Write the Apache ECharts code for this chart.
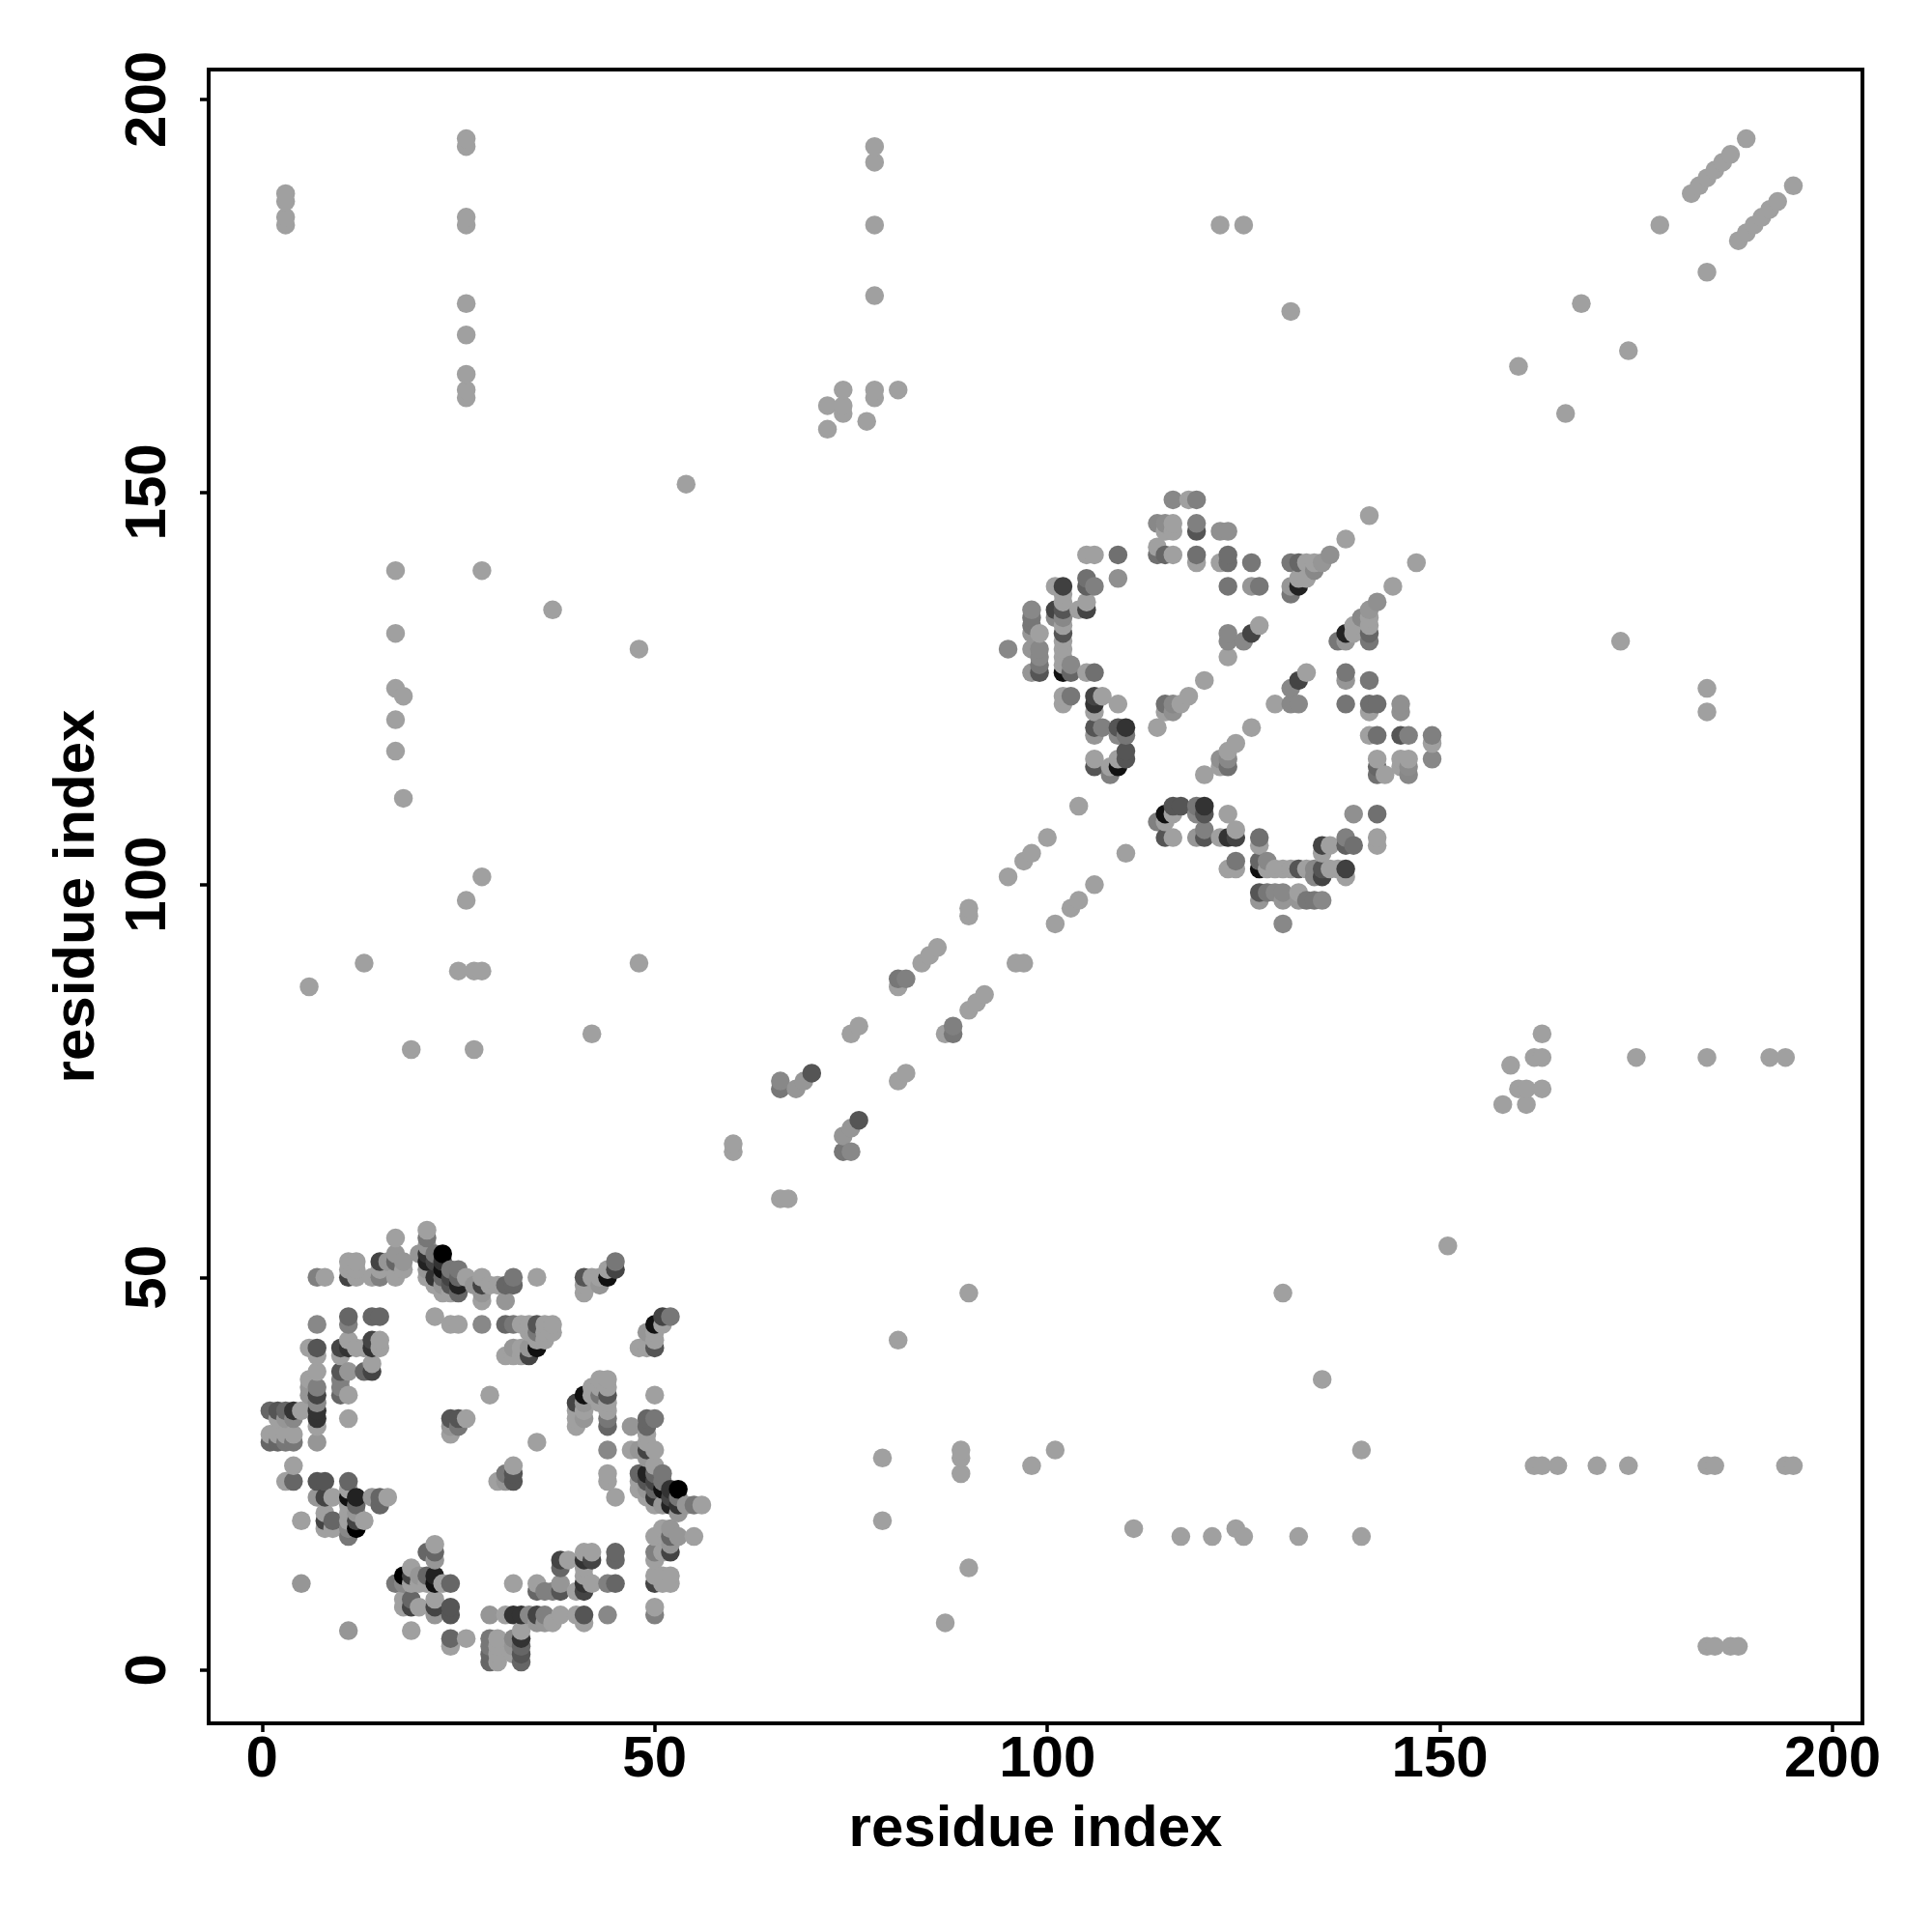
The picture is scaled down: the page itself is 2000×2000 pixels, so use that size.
<!DOCTYPE html>
<html><head><meta charset="utf-8">
<style>html,body{margin:0;padding:0;background:#fff}#c{width:2000px;height:2000px}</style>
<script src="https://cdn.jsdelivr.net/npm/echarts@6/dist/echarts.min.js"></script>
</head><body><div id="c"></div>
<script>
const axisTitle = 'residue index';
const tickValues = [0, 50, 100, 150, 200];
const axisMin = -6.8, axisMax = 203.8;
const lightGray = 160;

// contacts are stored once as [i, j] or [i, j, gray] with i < j; the map is symmetric
const farContacts = [
 [3,188],[3,187],[3,185],[3,184],[26,195],[26,194],[26,185],[26,184],[26,174],[26,170],[26,165],[26,163],[26,162],
 [78,194],[78,192],[78,184],[78,175],[78,163],[78,162],[81,163],[74,163],[74,160],[74,161],[72,161],[72,158],[77,159],
 [122,184],[125,184],[131,173],[160,166],[168,174],[178,184],
 [182,188],[183,189],[184,190],[185,191],[186,192],[187,193],[189,195],
 [54,151],[17,140],[28,140],[37,135],[17,132],[48,130],[17,125],[18,124],[17,121],[17,117],[18,111],
 [28,101],[26,98],[13,90],[6,87],[25,89],[27,89],[28,89],[48,90],[42,81],[19,79],[27,79]
];
const bandContacts = [
 [60,67],[60,66],[66,75,136],[66,74,119],[68,74,150],[69,75,150],[70,76,85],[75,81],[76,82],
 [81,87],[81,88,119],[82,88,128],[84,90],[85,91],[86,92],[90,97],[90,96],[95,101],[97,103],[98,104],[100,106],[104,110]
];
const barrelA = [
 [1,33,102],[1,30,160],[1,29,102],[2,33,85],[2,32,160],[2,30,160],[2,29,102],
 [3,33,102],[3,32,150],[3,30,160],[3,29,119],[3,24,160],
 [4,33,51],[4,32,136],[4,30,160],[4,29,119],[4,26,160],[4,24,102],[5,33,160],[5,19,160],[5,11,150],
 [6,41,160],[6,37,160],[6,36,150],[6,35,150],
 [7,50,128],[7,44,136],[7,41,85],[7,40,160],[7,38,160],[7,36,128],[7,35,68],[7,34,136],[7,33,51],[7,32,51],[7,31,160],[7,29,150],[7,24,85],[7,22,150],
 [8,50,160],[8,24,85],[8,22,68],[8,20,160],[8,19,68],[8,18,160],[9,22,160],[9,19,102],[9,18,160],
 [10,41,68],[10,40,160],[10,38,85],[10,37,128],[10,36,128],[10,35,102],
 [11,52,160],[11,51,160],[11,50,68],[11,45,102],[11,44,128],[11,42,160],[11,41,51],[11,38,150],[11,35,160],[11,32,160],[11,24,102],[11,23,160],[11,22,17],[11,21,160],[11,20,160],[11,19,160],[11,18,136],[11,17,119],
 [12,52,160],[12,51,160],[12,50,160],[12,41,160],[12,22,34],[12,21,102],[12,20,150],[12,19,68],[12,18,0],
 [13,41,160],[13,38,102],[13,19,160],
 [14,50,160],[14,45,102],[14,42,68],[14,41,51],[14,39,160],[14,38,68],[14,22,150],
 [15,52,68],[15,51,160],[15,50,128],[15,45,102],[15,42,160],[15,41,160],[15,22,102],[15,21,102],
 [16,52,150],[16,22,160],[17,55,160],[17,53,150],[17,52,102],[17,50,160],[18,52,150],[18,51,160],[20,53,150],
 [21,56,160],[21,55,119],[21,54,150],[21,53,51],[21,52,34],[21,51,150],[21,50,160],
 [22,53,119],[22,52,68],[22,50,51],[22,49,160],[22,45,160],
 [23,53,0],[23,52,51],[23,51,17],[23,50,102],[23,49,150],[23,48,160],
 [24,51,119],[24,50,68],[24,49,85],[24,48,160],[24,44,160],[24,32,85],[24,31,150],[24,30,160],
 [25,51,119],[25,50,102],[25,49,34],[25,48,102],[25,44,160],[25,32,85],[25,31,119],
 [26,50,160],[26,32,160],[27,49,150],[28,50,160],[28,49,68],[28,48,150],[28,47,160],[28,44,136],
 [29,49,160],[29,35,160],[30,49,160],[31,49,102],[31,47,150],[31,44,102],[31,40,160],
 [32,50,119],[32,49,102],[32,44,119],[32,41,150],[32,40,160],[33,44,160],[33,41,160],[33,40,160],
 [34,44,160],[34,43,160],[34,41,150],[34,40,68],[35,50,160],[35,44,85],[35,43,119],[35,42,160],[35,41,17],
 [36,44,160],[36,43,160],[36,42,160],[37,44,160],[37,43,160],
 [41,50,85],[41,49,160],[41,48,160],[42,50,160],[43,50,160],[43,49,150],[44,51,160],[44,50,17],[45,52,119],[45,51,68]
];
const barrelB = [
 [95,130,136],[98,135,136],[98,134,119],[98,133,119],[98,132,150],[98,130,150],[98,127,150],
 [99,132,160],[99,130,136],[99,129,136],[99,128,119],[99,127,85],[101,138,160],[101,135,68],[101,134,136],
 [102,138,64],[102,137,160],[102,136,160],[102,135,85],[102,134,136],[102,133,160],[102,132,85],[102,131,160],[102,130,160],[102,129,160],[102,128,160],[102,127,17],[102,124,160],[102,123,160],
 [103,128,136],[103,127,102],[103,124,119],[104,135,160],
 [105,142,160],[105,139,112],[105,138,96],[105,136,160],[105,135,68],[105,127,160],
 [106,142,160],[106,138,128],[106,127,112],[106,124,68],[106,123,51],[106,122,160],[106,120,85],[106,119,150],[106,116,160],[106,115,85],
 [107,124,160],[107,120,128],[108,115,160],[108,114,128],
 [109,142,112],[109,139,144],[109,123,160],[109,120,85],[109,119,136],[109,116,160],[109,115,17],
 [110,120,51],[110,119,119],[110,117,85],[110,116,85],
 [114,146,136],[114,143,160],[114,142,112],[114,120,160],
 [115,146,140],[115,145,160],[115,142,102],[115,123,112],[115,122,160],
 [116,149,136],[116,146,160],[116,145,160],[116,142,160],[116,123,136],[116,122,144],[117,123,160],[118,149,160],[118,124,160],
 [119,149,128],[119,146,128],[119,145,85],[119,142,112],[119,141,160],[120,126,160],
 [122,145,144],[122,141,160],[123,145,144],[123,142,110],[123,141,110],[123,138,117],[123,132,136],[123,131,136],[123,129,160],
 [125,131,136],[126,141,119],[126,138,150],[126,132,68],[127,138,119],[127,133,160],
 [131,141,119],[131,138,150],[131,137,119],[132,141,102],[132,139,160],[132,138,34],[133,141,160],[133,139,160],
 [134,141,160],[134,140,136],[135,141,150],[136,142,144],[138,144,160],[141,147,160]
];

const seen = {};
const points = [];
[farContacts, bandContacts, barrelA, barrelB].forEach(function (group) {
  group.forEach(function (c) {
    const g = c.length > 2 ? c[2] : lightGray;
    [[c[0], c[1]], [c[1], c[0]]].forEach(function (p) {
      const key = p[0] + '_' + p[1];
      if (seen[key]) return;
      seen[key] = true;
      points.push({ value: p, itemStyle: { color: 'rgb(' + g + ',' + g + ',' + g + ')', opacity: 1 } });
    });
  });
});
points.sort(function (a, b) { return a.value[0] - b.value[0] || a.value[1] - b.value[1]; });

const font = 'Liberation Sans';
function axis(rotate, nameGap, labelMargin) {
  return {
    type: 'value', min: axisMin, max: axisMax, name: axisTitle, nameLocation: 'middle', nameGap: nameGap,
    nameTextStyle: { fontFamily: font, fontWeight: 'bold', fontSize: 60, color: '#000' },
    splitLine: { show: false },
    axisLine: { show: false, onZero: false },
    axisTick: { show: true, length: 9, lineStyle: { color: '#000', width: 3.5 }, customValues: tickValues },
    axisLabel: { show: true, rotate: rotate, margin: labelMargin, fontFamily: font, fontWeight: 'bold', fontSize: 60, color: '#000', customValues: tickValues, formatter: function (v) { return String(v); } }
  };
}
const chart = echarts.init(document.getElementById('c'), null, { renderer: 'canvas' });
chart.setOption({
  animation: false,
  backgroundColor: '#fff',
  grid: { left: 216, top: 72, width: 1712, height: 1712, show: true, borderColor: '#000', borderWidth: 4, backgroundColor: 'transparent' },
  xAxis: axis(0, 80, 8),
  yAxis: axis(90, 106, 32),
  series: [{ type: 'scatter', symbol: 'circle', symbolSize: 19.5, silent: true, itemStyle: { opacity: 1 }, data: points }]
});
</script></body></html>
